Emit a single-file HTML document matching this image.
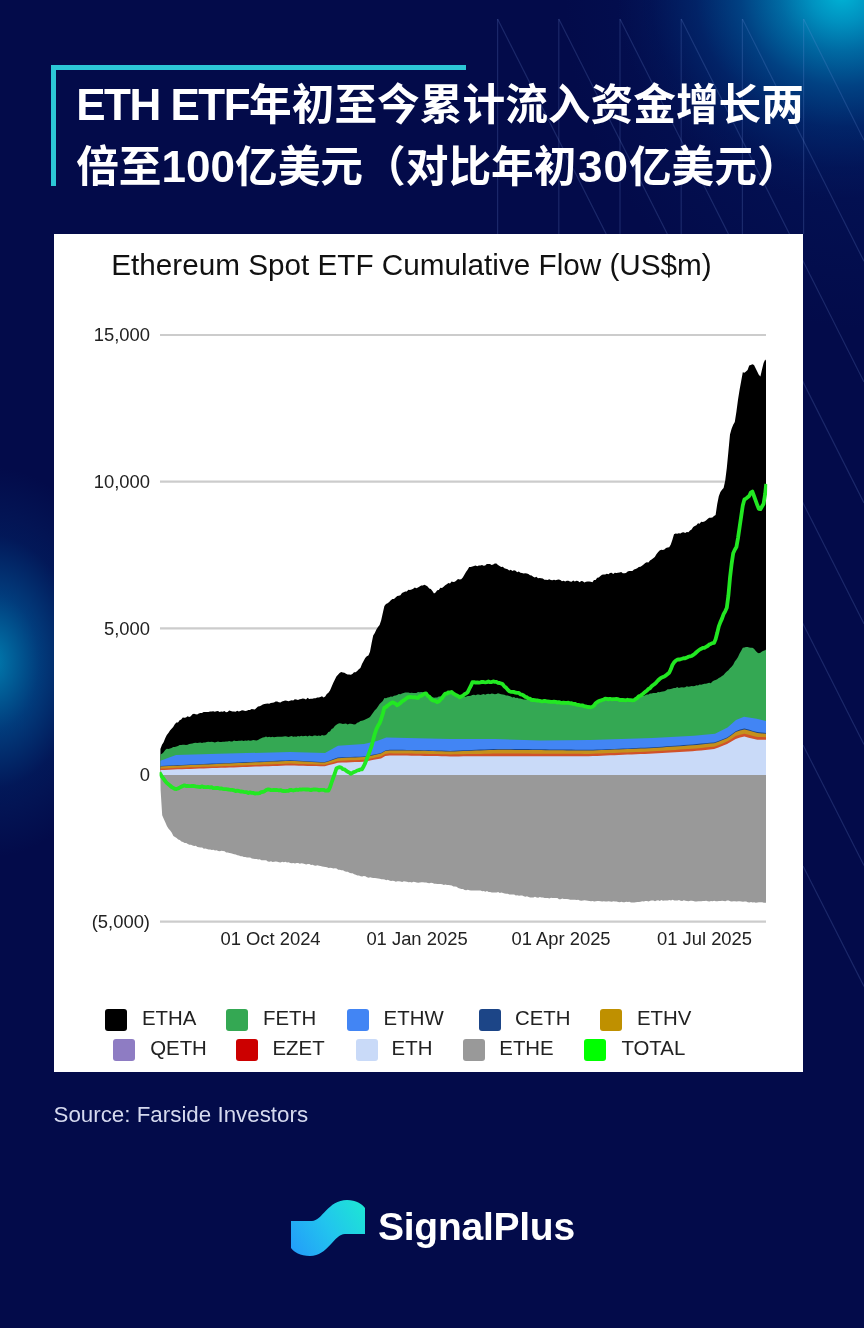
<!DOCTYPE html>
<html lang="zh">
<head>
<meta charset="utf-8">
<title>ETH ETF</title>
<style>
html,body{margin:0;padding:0;}
body{width:864px;height:1328px;overflow:hidden;position:relative;background:#030b4a;font-family:"Liberation Sans","Noto Sans CJK SC",sans-serif;}
.bg{position:absolute;left:0;top:0;width:864px;height:1328px;
background:
 radial-gradient(ellipse 225px 205px at 842px -6px, rgba(0,180,214,1) 0%, rgba(0,152,197,0.95) 14%, rgba(0,120,175,0.85) 28%, rgba(0,85,150,0.7) 45%, rgba(0,55,125,0.48) 65%, rgba(0,35,105,0.22) 85%, rgba(0,25,95,0) 100%),
 radial-gradient(ellipse 300px 330px at 864px 0px, rgba(0,60,140,0.28) 0%, rgba(0,50,130,0.14) 55%, rgba(0,40,120,0) 100%),
 radial-gradient(ellipse 135px 195px at -8px 662px, rgba(0,130,180,0.95) 0%, rgba(0,100,165,0.55) 35%, rgba(0,70,140,0.22) 65%, rgba(0,50,120,0) 100%),
 #030b4a;}
.deco{position:absolute;left:0;top:0;}
.brk-h{position:absolute;left:51px;top:65px;width:415px;height:5px;background:#2cc7d6;}
.brk-v{position:absolute;left:51px;top:65px;width:5px;height:121px;background:#2cc7d6;}
.title{position:absolute;left:76.2px;top:73.5px;width:780px;margin:0;color:#fff;font-weight:700;font-size:42.7px;line-height:61.5px;white-space:nowrap;font-family:"Liberation Sans","Noto Sans CJK SC",sans-serif;}
.title .la{font-size:44px;letter-spacing:-1.5px;}
.title .dg{font-size:44px;}
.card{position:absolute;left:54px;top:234px;width:749px;height:838px;background:#fff;}
.plot{position:absolute;left:0;top:0;}
.ctitle{position:absolute;left:57.2px;top:14px;font-size:29.7px;line-height:34px;color:#111;white-space:nowrap;}
.yl{position:absolute;right:653px;font-size:18.4px;line-height:20px;color:#222;white-space:nowrap;text-align:right;}
.xl{position:absolute;top:695px;font-size:18.4px;line-height:20px;color:#222;white-space:nowrap;transform:translateX(-50%);}
.lg{position:absolute;font-size:20.4px;line-height:22px;color:#222;white-space:nowrap;}
.sw{position:absolute;width:22px;height:22px;border-radius:3px;}
.src{position:absolute;left:53.5px;top:1102.4px;font-size:22.35px;line-height:26px;color:#d5d9ee;white-space:nowrap;}
.logo{position:absolute;left:0;top:0;}
.brand{position:absolute;left:378px;top:1205px;font-size:39px;line-height:44px;letter-spacing:-0.25px;font-weight:700;color:#fff;white-space:nowrap;}
</style>
</head>
<body>
<div class="bg"></div>
<svg class="deco" width="864" height="1328" viewBox="0 0 864 1328"><g stroke="#7f9be6" stroke-opacity="0.2" stroke-width="1.2" fill="none">
<line x1="497.6" y1="19" x2="497.6" y2="234"/>
<line x1="497.6" y1="19" x2="864.0" y2="744.6"/>
<line x1="558.8" y1="19" x2="558.8" y2="234"/>
<line x1="558.8" y1="19" x2="864.0" y2="623.8"/>
<line x1="620.0" y1="19" x2="620.0" y2="234"/>
<line x1="620.0" y1="19" x2="864.0" y2="502.9"/>
<line x1="681.2" y1="19" x2="681.2" y2="234"/>
<line x1="681.2" y1="19" x2="864.0" y2="382.0"/>
<line x1="742.4" y1="19" x2="742.4" y2="234"/>
<line x1="742.4" y1="19" x2="864.0" y2="261.2"/>
<line x1="803.6" y1="19" x2="803.6" y2="234"/>
<line x1="803.6" y1="19" x2="864.0" y2="140.3"/>
<line x1="803.0" y1="865.9" x2="864.0" y2="986.4"/>
<line x1="803.0" y1="745.0" x2="864.0" y2="865.5"/>
</g></svg>
<div class="brk-h"></div><div class="brk-v"></div>
<h1 class="title"><span class="la">ETH ETF</span>年初至今累计流入资金增长两<br>倍至<span class="dg">100</span>亿美元（对比年初<span class="dg" style="letter-spacing:1px;margin-left:1.5px">30</span>亿美元）</h1>
<div class="card">
<svg class="plot" width="749" height="838" viewBox="54 234 749 838">
<line x1="160" x2="766" y1="335.0" y2="335.0" stroke="#cccccc" stroke-width="2.2"/>
<line x1="160" x2="766" y1="481.7" y2="481.7" stroke="#cccccc" stroke-width="2.2"/>
<line x1="160" x2="766" y1="628.3" y2="628.3" stroke="#cccccc" stroke-width="2.2"/>
<line x1="160" x2="766" y1="775.0" y2="775.0" stroke="#cccccc" stroke-width="2.2"/>
<line x1="160" x2="766" y1="921.7" y2="921.7" stroke="#cccccc" stroke-width="2.2"/>
<path d="M160.4,775.0 L160.6,790.0 L162.2,815.2 L163.8,819.0 L165.4,822.4 L167.0,826.2 L168.6,828.8 L170.2,830.5 L171.8,832.8 L173.4,835.9 L175.0,837.0 L176.6,837.9 L178.2,839.6 L179.8,840.0 L181.4,841.4 L183.0,842.0 L184.6,843.1 L186.2,843.1 L187.8,844.0 L189.4,844.7 L191.0,844.8 L192.6,845.5 L194.2,845.9 L195.8,845.8 L197.4,846.9 L199.0,847.2 L200.6,847.4 L202.2,847.6 L203.8,848.7 L205.4,848.5 L207.0,849.0 L208.6,849.4 L210.2,849.5 L211.8,850.0 L213.4,849.7 L215.0,850.4 L216.6,850.3 L218.2,851.0 L219.8,851.2 L221.4,850.7 L223.0,851.0 L224.6,851.3 L226.2,852.5 L227.8,852.4 L229.4,853.1 L231.0,853.2 L232.6,853.8 L234.2,854.2 L235.8,854.6 L237.4,855.2 L239.0,855.5 L240.6,856.2 L242.2,856.3 L243.8,856.9 L245.4,857.1 L247.0,857.6 L248.6,857.6 L250.2,857.4 L251.8,858.4 L253.4,858.8 L255.0,859.1 L256.6,859.0 L258.2,859.5 L259.8,859.3 L261.4,860.2 L263.0,860.2 L264.6,860.2 L266.2,860.3 L267.8,861.4 L269.4,861.8 L271.0,861.2 L272.6,862.0 L274.2,861.7 L275.8,861.5 L277.4,861.7 L279.0,862.3 L280.6,862.5 L282.2,861.7 L283.8,862.3 L285.4,861.8 L287.0,862.6 L288.6,862.3 L290.2,862.9 L291.8,863.2 L293.4,862.9 L295.0,863.5 L296.6,863.0 L298.2,863.0 L299.8,863.7 L301.4,863.3 L303.0,863.6 L304.6,864.0 L306.2,864.4 L307.8,864.1 L309.4,864.1 L311.0,865.1 L312.6,864.8 L314.2,865.6 L315.8,865.7 L317.4,865.3 L319.0,865.7 L320.6,866.0 L322.2,866.4 L323.8,866.7 L325.4,866.9 L327.0,867.2 L328.6,867.9 L330.2,867.7 L331.8,867.9 L333.4,868.5 L335.0,868.3 L336.6,868.6 L338.2,869.7 L339.8,869.8 L341.4,870.3 L343.0,870.3 L344.6,871.2 L346.2,871.8 L347.8,871.7 L349.4,872.8 L351.0,873.3 L352.6,873.3 L354.2,874.3 L355.8,874.7 L357.4,875.4 L359.0,875.5 L360.6,876.2 L362.2,876.5 L363.8,876.0 L365.4,876.3 L367.0,877.2 L368.6,877.7 L370.2,877.2 L371.8,877.7 L373.4,878.1 L375.0,878.0 L376.6,878.3 L378.2,878.5 L379.8,878.8 L381.4,879.3 L383.0,879.3 L384.6,879.6 L386.2,880.2 L387.8,879.7 L389.4,880.5 L391.0,880.9 L392.6,880.8 L394.2,880.9 L395.8,881.7 L397.4,881.2 L399.0,881.2 L400.6,881.5 L402.2,881.9 L403.8,881.3 L405.4,881.6 L407.0,881.7 L408.6,882.3 L410.2,882.0 L411.8,882.4 L413.4,881.8 L415.0,882.1 L416.6,882.4 L418.2,882.7 L419.8,882.4 L421.4,882.2 L423.0,882.2 L424.6,882.6 L426.2,882.4 L427.8,883.1 L429.4,883.2 L431.0,882.7 L432.6,883.0 L434.2,883.7 L435.8,883.8 L437.4,884.1 L439.0,883.9 L440.6,883.9 L442.2,884.2 L443.8,884.9 L445.4,884.6 L447.0,884.9 L448.6,885.1 L450.2,885.3 L451.8,885.6 L453.4,886.6 L455.0,886.4 L456.6,886.7 L458.2,888.1 L459.8,888.5 L461.4,889.1 L463.0,889.0 L464.6,890.0 L466.2,890.2 L467.8,889.7 L469.4,890.3 L471.0,890.5 L472.6,890.5 L474.2,890.5 L475.8,890.4 L477.4,890.6 L479.0,890.6 L480.6,890.6 L482.2,891.2 L483.8,891.1 L485.4,891.7 L487.0,891.1 L488.6,892.1 L490.2,892.0 L491.8,892.4 L493.4,892.5 L495.0,892.6 L496.6,892.5 L498.2,892.0 L499.8,893.0 L501.4,892.6 L503.0,893.0 L504.6,893.6 L506.2,893.7 L507.8,893.8 L509.4,894.5 L511.0,894.4 L512.6,894.4 L514.2,894.5 L515.8,895.4 L517.4,895.2 L519.0,895.7 L520.6,895.5 L522.2,895.6 L523.8,896.2 L525.4,896.7 L527.0,896.2 L528.6,897.1 L530.2,897.4 L531.8,897.4 L533.4,897.5 L535.0,896.8 L536.6,897.5 L538.2,897.8 L539.8,897.1 L541.4,897.4 L543.0,897.5 L544.6,897.9 L546.2,897.9 L547.8,898.0 L549.4,898.4 L551.0,897.7 L552.6,897.9 L554.2,898.0 L555.8,898.1 L557.4,898.1 L559.0,899.2 L560.6,899.2 L562.2,898.5 L563.8,899.1 L565.4,899.0 L567.0,899.1 L568.6,899.3 L570.2,899.7 L571.8,899.8 L573.4,899.7 L575.0,899.7 L576.6,899.9 L578.2,899.8 L579.8,900.4 L581.4,900.7 L583.0,900.5 L584.6,900.3 L586.2,900.5 L587.8,900.7 L589.4,901.0 L591.0,901.2 L592.6,900.9 L594.2,901.4 L595.8,901.2 L597.4,901.1 L599.0,901.1 L600.6,901.2 L602.2,901.5 L603.8,901.3 L605.4,901.6 L607.0,901.4 L608.6,901.2 L610.2,901.6 L611.8,901.8 L613.4,901.2 L615.0,901.6 L616.6,901.6 L618.2,902.1 L619.8,902.3 L621.4,901.7 L623.0,902.3 L624.6,902.2 L626.2,901.8 L627.8,902.0 L629.4,901.7 L631.0,902.5 L632.6,902.4 L634.2,902.5 L635.8,902.3 L637.4,902.1 L639.0,902.1 L640.6,901.8 L642.2,901.2 L643.8,901.6 L645.4,900.9 L647.0,901.0 L648.6,901.5 L650.2,900.7 L651.8,900.6 L653.4,900.5 L655.0,901.2 L656.6,900.4 L658.2,900.2 L659.8,900.9 L661.4,900.1 L663.0,900.7 L664.6,900.4 L666.2,900.5 L667.8,900.5 L669.4,900.1 L671.0,900.4 L672.6,899.7 L674.2,900.5 L675.8,900.4 L677.4,900.6 L679.0,900.1 L680.6,900.8 L682.2,901.1 L683.8,900.3 L685.4,900.7 L687.0,901.0 L688.6,901.3 L690.2,900.8 L691.8,900.8 L693.4,901.0 L695.0,901.4 L696.6,901.6 L698.2,901.3 L699.8,901.2 L701.4,901.2 L703.0,901.1 L704.6,901.1 L706.2,900.8 L707.8,901.2 L709.4,901.6 L711.0,901.0 L712.6,901.3 L714.2,900.7 L715.8,901.2 L717.4,901.2 L719.0,901.1 L720.6,900.9 L722.2,900.8 L723.8,901.0 L725.4,901.2 L727.0,900.6 L728.6,900.6 L730.2,901.3 L731.8,901.6 L733.4,901.3 L735.0,901.3 L736.6,901.6 L738.2,901.2 L739.8,901.3 L741.4,901.4 L743.0,901.8 L744.6,901.6 L746.2,901.6 L747.8,902.2 L749.4,902.5 L751.0,901.9 L752.6,902.4 L754.2,902.2 L755.8,902.7 L757.4,902.5 L759.0,902.3 L760.6,902.3 L762.2,902.2 L763.8,902.7 L765.4,902.7 L766.0,902.8 L766.0,775.0 Z" fill="#999999"/>
<path d="M160.4,775.0 L160.4,749.0 L162.0,744.7 L163.6,742.2 L165.2,738.3 L166.8,734.9 L168.4,733.0 L170.0,730.6 L171.6,728.7 L173.2,726.9 L174.8,724.3 L176.4,722.6 L178.0,722.4 L179.6,720.2 L181.2,719.4 L182.8,717.6 L184.4,717.7 L186.0,717.6 L187.6,716.3 L189.2,716.9 L190.8,716.2 L192.4,714.3 L194.0,713.8 L195.6,714.3 L197.2,714.6 L198.8,713.4 L200.4,712.9 L202.0,712.9 L203.6,711.9 L205.2,711.9 L206.8,711.9 L208.4,711.9 L210.0,711.5 L211.6,711.4 L213.2,711.3 L214.8,711.7 L216.4,711.3 L218.0,710.9 L219.6,712.1 L221.2,711.6 L222.8,711.7 L224.4,710.9 L226.0,712.2 L227.6,711.9 L229.2,710.6 L230.8,710.9 L232.4,711.5 L234.0,711.4 L235.6,711.7 L237.2,710.8 L238.8,711.4 L240.4,711.0 L242.0,710.2 L243.6,710.5 L245.2,710.9 L246.8,710.7 L248.4,710.0 L250.0,710.0 L251.6,709.0 L253.2,709.2 L254.8,709.5 L256.4,707.9 L258.0,706.6 L259.6,706.3 L261.2,705.6 L262.8,704.6 L264.4,703.9 L266.0,703.7 L267.6,703.6 L269.2,703.8 L270.8,703.1 L272.4,702.7 L274.0,702.6 L275.6,701.6 L277.2,701.4 L278.8,702.2 L280.4,702.4 L282.0,701.6 L283.6,701.0 L285.2,700.5 L286.8,700.8 L288.4,701.3 L290.0,700.8 L291.6,700.2 L293.2,700.5 L294.8,699.3 L296.4,699.5 L298.0,700.0 L299.6,699.2 L301.2,698.9 L302.8,698.5 L304.4,698.8 L306.0,699.4 L307.6,697.8 L309.2,698.9 L310.8,698.8 L312.4,698.7 L314.0,698.3 L315.6,698.2 L317.2,697.6 L318.8,697.5 L320.4,697.1 L322.0,696.3 L323.6,697.4 L325.2,696.6 L326.8,694.1 L328.4,692.7 L330.0,690.5 L331.6,686.7 L333.2,683.1 L334.8,679.8 L336.4,676.4 L338.0,674.8 L339.6,672.9 L341.2,672.0 L342.8,672.6 L344.4,672.8 L346.0,673.7 L347.6,674.4 L349.2,674.6 L350.8,674.8 L352.4,674.1 L354.0,672.3 L355.6,672.3 L357.2,671.0 L358.8,669.2 L360.4,668.1 L362.0,664.0 L363.6,661.0 L365.2,658.0 L366.8,656.2 L368.4,655.4 L370.0,651.8 L371.6,643.3 L373.2,635.5 L374.8,632.9 L376.4,629.6 L378.0,626.9 L379.6,624.9 L381.2,620.3 L382.8,612.9 L384.4,606.0 L386.0,603.9 L387.6,603.2 L389.2,602.0 L390.8,600.3 L392.4,598.9 L394.0,599.0 L395.6,597.5 L397.2,596.1 L398.8,595.8 L400.4,595.2 L402.0,593.1 L403.6,592.2 L405.2,591.5 L406.8,591.5 L408.4,589.7 L410.0,590.0 L411.6,589.4 L413.2,588.7 L414.8,587.6 L416.4,588.3 L418.0,587.5 L419.6,586.5 L421.2,585.5 L422.8,585.6 L424.4,584.7 L426.0,585.5 L427.6,586.5 L429.2,588.5 L430.8,589.0 L432.4,590.9 L434.0,593.4 L435.6,592.6 L437.2,590.3 L438.8,589.9 L440.4,587.8 L442.0,587.9 L443.6,586.7 L445.2,585.3 L446.8,584.2 L448.4,582.9 L450.0,583.4 L451.6,581.4 L453.2,582.1 L454.8,581.7 L456.4,580.4 L458.0,579.1 L459.6,579.6 L461.2,579.2 L462.8,577.4 L464.4,574.7 L466.0,572.1 L467.6,569.7 L469.2,567.0 L470.8,567.0 L472.4,566.4 L474.0,565.9 L475.6,565.5 L477.2,566.2 L478.8,565.4 L480.4,565.6 L482.0,565.1 L483.6,565.8 L485.2,565.6 L486.8,564.0 L488.4,564.1 L490.0,564.1 L491.6,565.0 L493.2,564.4 L494.8,563.5 L496.4,563.6 L498.0,565.1 L499.6,566.1 L501.2,567.0 L502.8,566.7 L504.4,568.3 L506.0,568.8 L507.6,569.2 L509.2,570.5 L510.8,569.7 L512.4,570.9 L514.0,570.2 L515.6,570.7 L517.2,572.3 L518.8,571.5 L520.4,572.8 L522.0,572.9 L523.6,573.6 L525.2,573.2 L526.8,573.6 L528.4,573.9 L530.0,575.3 L531.6,575.6 L533.2,576.8 L534.8,577.4 L536.4,576.8 L538.0,578.2 L539.6,578.1 L541.2,578.3 L542.8,578.4 L544.4,579.8 L546.0,579.8 L547.6,580.0 L549.2,579.3 L550.8,579.9 L552.4,580.3 L554.0,579.7 L555.6,580.2 L557.2,579.7 L558.8,579.6 L560.4,580.0 L562.0,581.2 L563.6,580.8 L565.2,581.5 L566.8,580.8 L568.4,580.7 L570.0,581.6 L571.6,581.7 L573.2,580.5 L574.8,581.6 L576.4,580.8 L578.0,580.9 L579.6,582.2 L581.2,580.9 L582.8,581.3 L584.4,582.6 L586.0,581.8 L587.6,581.4 L589.2,581.5 L590.8,581.7 L592.4,582.2 L594.0,579.9 L595.6,579.9 L597.2,577.8 L598.8,577.4 L600.4,576.1 L602.0,574.8 L603.6,574.5 L605.2,574.6 L606.8,573.7 L608.4,574.3 L610.0,573.1 L611.6,572.8 L613.2,574.1 L614.8,572.7 L616.4,573.1 L618.0,572.8 L619.6,572.4 L621.2,572.0 L622.8,573.2 L624.4,573.2 L626.0,573.1 L627.6,571.6 L629.2,571.1 L630.8,571.1 L632.4,570.9 L634.0,569.5 L635.6,569.1 L637.2,568.3 L638.8,567.0 L640.4,566.8 L642.0,565.7 L643.6,564.5 L645.2,563.1 L646.8,562.3 L648.4,562.4 L650.0,560.4 L651.6,559.6 L653.2,558.2 L654.8,556.9 L656.4,554.2 L658.0,552.3 L659.6,550.6 L661.2,549.7 L662.8,550.0 L664.4,549.5 L666.0,548.0 L667.6,547.5 L669.2,547.3 L670.8,544.4 L672.4,539.7 L674.0,534.3 L675.6,533.6 L677.2,533.7 L678.8,533.2 L680.4,533.6 L682.0,532.6 L683.6,532.3 L685.2,532.9 L686.8,532.1 L688.4,532.3 L690.0,530.4 L691.6,529.6 L693.2,527.0 L694.8,526.1 L696.4,525.2 L698.0,523.2 L699.6,523.8 L701.2,521.8 L702.8,521.9 L704.4,521.5 L706.0,520.4 L707.6,518.9 L709.2,517.8 L710.8,517.7 L712.4,517.6 L714.0,515.9 L715.6,515.0 L717.2,504.3 L718.8,496.3 L720.4,492.1 L722.0,489.8 L723.6,488.0 L725.2,480.7 L726.8,468.1 L728.4,451.6 L730.0,434.6 L731.6,428.7 L733.2,424.7 L734.8,421.9 L736.4,411.7 L738.0,399.8 L739.6,389.8 L741.2,380.9 L742.8,372.3 L744.4,372.7 L746.0,371.4 L747.6,369.9 L749.2,365.5 L750.8,365.1 L752.4,364.2 L754.0,364.9 L755.6,368.3 L757.2,371.6 L758.8,374.7 L760.4,376.6 L762.0,369.4 L763.6,363.0 L765.2,359.6 L766.0,360.7 L766.0,775.0 Z" fill="#000000"/>
<path d="M160.4,775.0 L160.4,754.6 L162.0,753.7 L163.6,752.3 L165.2,750.1 L166.8,748.8 L168.4,748.9 L170.0,748.4 L171.6,747.9 L173.2,747.0 L174.8,746.9 L176.4,746.4 L178.0,745.9 L179.6,745.1 L181.2,744.9 L182.8,744.7 L184.4,744.8 L186.0,744.9 L187.6,744.7 L189.2,744.1 L190.8,743.8 L192.4,743.4 L194.0,743.0 L195.6,742.8 L197.2,743.0 L198.8,742.7 L200.4,742.6 L202.0,742.9 L203.6,742.4 L205.2,742.4 L206.8,742.0 L208.4,741.7 L210.0,741.9 L211.6,741.7 L213.2,742.0 L214.8,742.4 L216.4,742.0 L218.0,741.4 L219.6,742.0 L221.2,741.9 L222.8,741.7 L224.4,741.8 L226.0,741.6 L227.6,741.5 L229.2,741.0 L230.8,741.6 L232.4,741.5 L234.0,740.6 L235.6,741.1 L237.2,741.0 L238.8,740.7 L240.4,740.7 L242.0,740.6 L243.6,741.0 L245.2,740.5 L246.8,740.7 L248.4,740.2 L250.0,740.7 L251.6,740.6 L253.2,740.1 L254.8,740.2 L256.4,740.5 L258.0,740.1 L259.6,739.1 L261.2,738.2 L262.8,737.6 L264.4,737.3 L266.0,736.6 L267.6,737.3 L269.2,736.7 L270.8,737.3 L272.4,736.7 L274.0,737.3 L275.6,737.0 L277.2,736.8 L278.8,736.7 L280.4,736.8 L282.0,736.7 L283.6,736.4 L285.2,736.3 L286.8,736.6 L288.4,737.0 L290.0,736.6 L291.6,736.0 L293.2,736.7 L294.8,736.6 L296.4,736.7 L298.0,736.0 L299.6,736.5 L301.2,735.7 L302.8,736.3 L304.4,735.9 L306.0,735.8 L307.6,736.4 L309.2,735.6 L310.8,735.9 L312.4,736.2 L314.0,735.6 L315.6,735.5 L317.2,736.1 L318.8,735.6 L320.4,735.9 L322.0,735.1 L323.6,735.4 L325.2,735.2 L326.8,734.2 L328.4,732.1 L330.0,731.5 L331.6,729.0 L333.2,728.2 L334.8,726.0 L336.4,724.8 L338.0,723.8 L339.6,723.2 L341.2,723.4 L342.8,723.9 L344.4,723.7 L346.0,723.5 L347.6,724.5 L349.2,723.8 L350.8,723.7 L352.4,724.1 L354.0,724.5 L355.6,724.2 L357.2,722.8 L358.8,722.2 L360.4,721.1 L362.0,720.7 L363.6,720.3 L365.2,719.4 L366.8,718.8 L368.4,717.9 L370.0,716.9 L371.6,714.7 L373.2,712.5 L374.8,710.3 L376.4,708.7 L378.0,706.4 L379.6,704.1 L381.2,702.5 L382.8,700.9 L384.4,698.1 L386.0,698.2 L387.6,697.5 L389.2,697.2 L390.8,696.4 L392.4,696.8 L394.0,695.7 L395.6,695.6 L397.2,695.0 L398.8,694.1 L400.4,694.2 L402.0,693.4 L403.6,692.9 L405.2,692.5 L406.8,692.6 L408.4,692.4 L410.0,692.9 L411.6,692.7 L413.2,693.1 L414.8,692.9 L416.4,692.9 L418.0,692.1 L419.6,692.2 L421.2,691.9 L422.8,692.2 L424.4,692.2 L426.0,693.0 L427.6,694.0 L429.2,694.7 L430.8,695.9 L432.4,697.1 L434.0,697.7 L435.6,697.6 L437.2,697.4 L438.8,696.6 L440.4,696.6 L442.0,695.6 L443.6,694.9 L445.2,694.4 L446.8,693.9 L448.4,693.3 L450.0,693.0 L451.6,693.6 L453.2,694.0 L454.8,694.9 L456.4,695.1 L458.0,696.3 L459.6,697.0 L461.2,697.3 L462.8,697.2 L464.4,697.0 L466.0,696.7 L467.6,695.9 L469.2,696.0 L470.8,695.8 L472.4,695.1 L474.0,694.8 L475.6,695.2 L477.2,694.5 L478.8,694.5 L480.4,694.9 L482.0,694.5 L483.6,694.1 L485.2,694.7 L486.8,694.1 L488.4,693.7 L490.0,694.3 L491.6,693.6 L493.2,693.7 L494.8,694.2 L496.4,694.0 L498.0,693.3 L499.6,693.8 L501.2,694.2 L502.8,694.6 L504.4,694.7 L506.0,695.5 L507.6,695.4 L509.2,696.0 L510.8,696.5 L512.4,697.4 L514.0,697.0 L515.6,698.0 L517.2,697.7 L518.8,698.4 L520.4,698.5 L522.0,698.9 L523.6,699.5 L525.2,699.5 L526.8,699.5 L528.4,699.8 L530.0,700.1 L531.6,701.2 L533.2,701.2 L534.8,701.5 L536.4,701.3 L538.0,700.7 L539.6,701.4 L541.2,701.6 L542.8,701.6 L544.4,701.5 L546.0,701.4 L547.6,701.6 L549.2,702.0 L550.8,701.5 L552.4,701.9 L554.0,701.9 L555.6,702.5 L557.2,702.5 L558.8,702.7 L560.4,702.7 L562.0,702.2 L563.6,702.3 L565.2,702.6 L566.8,702.5 L568.4,702.8 L570.0,703.1 L571.6,703.6 L573.2,703.6 L574.8,704.3 L576.4,703.9 L578.0,704.5 L579.6,705.6 L581.2,705.1 L582.8,705.7 L584.4,705.8 L586.0,706.1 L587.6,707.3 L589.2,707.8 L590.8,707.8 L592.4,706.7 L594.0,705.1 L595.6,703.2 L597.2,701.9 L598.8,701.3 L600.4,700.6 L602.0,700.1 L603.6,699.2 L605.2,699.1 L606.8,699.4 L608.4,699.3 L610.0,698.7 L611.6,699.2 L613.2,699.5 L614.8,699.1 L616.4,699.8 L618.0,699.5 L619.6,699.8 L621.2,699.6 L622.8,700.3 L624.4,700.1 L626.0,700.0 L627.6,699.7 L629.2,700.0 L630.8,699.7 L632.4,700.3 L634.0,700.3 L635.6,698.8 L637.2,698.3 L638.8,697.5 L640.4,696.6 L642.0,696.1 L643.6,695.9 L645.2,695.2 L646.8,694.6 L648.4,694.6 L650.0,693.5 L651.6,693.5 L653.2,693.1 L654.8,693.0 L656.4,692.9 L658.0,692.1 L659.6,692.3 L661.2,691.8 L662.8,691.6 L664.4,691.3 L666.0,690.5 L667.6,689.3 L669.2,689.2 L670.8,688.9 L672.4,688.6 L674.0,688.1 L675.6,688.1 L677.2,687.1 L678.8,687.9 L680.4,687.5 L682.0,687.2 L683.6,687.4 L685.2,687.2 L686.8,686.3 L688.4,686.8 L690.0,686.6 L691.6,685.9 L693.2,686.3 L694.8,685.9 L696.4,685.2 L698.0,685.5 L699.6,684.6 L701.2,684.7 L702.8,684.2 L704.4,683.7 L706.0,683.7 L707.6,683.3 L709.2,682.8 L710.8,683.2 L712.4,681.4 L714.0,680.4 L715.6,679.9 L717.2,679.3 L718.8,678.1 L720.4,677.2 L722.0,676.0 L723.6,675.0 L725.2,673.1 L726.8,671.5 L728.4,670.2 L730.0,668.2 L731.6,666.7 L733.2,664.8 L734.8,661.6 L736.4,659.6 L738.0,657.0 L739.6,653.5 L741.2,650.7 L742.8,647.7 L744.4,647.5 L746.0,647.0 L747.6,647.1 L749.2,647.5 L750.8,647.8 L752.4,647.8 L754.0,648.8 L755.6,650.7 L757.2,652.4 L758.8,653.2 L760.4,652.7 L762.0,651.6 L763.6,650.7 L765.2,650.2 L766.0,649.4 L766.0,775.0 Z" fill="#34a853"/>
<path d="M160.4,775.0 L160.4,760.7 L176.0,755.0 L219.0,753.8 L290.0,752.0 L325.0,753.0 L338.0,745.7 L364.0,743.9 L377.0,741.0 L386.3,737.4 L450.0,739.0 L495.0,739.0 L540.0,740.5 L590.0,740.0 L652.5,738.0 L694.0,735.8 L715.0,733.8 L727.5,727.5 L736.0,720.0 L744.0,716.7 L756.7,718.8 L766.0,721.0 L766.0,775.0 Z" fill="#4285f4"/>
<path d="M160.4,775.0 L160.4,765.9 L164.7,765.7 L169.1,765.5 L173.4,765.3 L177.7,765.1 L182.0,765.0 L186.4,764.8 L190.7,764.6 L195.0,764.4 L199.3,764.2 L203.7,764.0 L208.0,763.8 L212.3,763.6 L216.6,763.5 L221.0,763.3 L225.3,763.1 L229.6,762.9 L233.9,762.7 L238.3,762.5 L242.6,762.3 L246.9,762.1 L251.2,761.9 L255.6,761.8 L259.9,761.6 L264.2,761.4 L268.5,761.2 L272.9,761.0 L277.2,760.8 L281.5,760.6 L285.8,760.4 L290.2,760.3 L294.5,760.5 L298.8,760.7 L303.1,761.0 L307.5,761.2 L311.8,761.4 L316.1,761.7 L320.5,761.9 L324.8,762.1 L329.1,760.7 L333.4,759.1 L337.8,757.6 L342.1,757.3 L346.4,757.2 L350.7,757.0 L355.1,756.8 L359.4,756.7 L363.7,756.5 L368.0,755.7 L372.4,754.8 L376.7,753.9 L381.0,753.0 L385.3,750.4 L389.7,749.7 L394.0,749.7 L398.3,749.8 L402.6,749.8 L407.0,749.9 L411.3,749.9 L415.6,750.0 L419.9,750.0 L424.3,750.2 L428.6,750.3 L432.9,750.4 L437.2,750.5 L441.6,750.6 L445.9,750.8 L450.2,750.9 L454.5,750.7 L458.9,750.5 L463.2,750.3 L467.5,750.2 L471.9,750.0 L476.2,749.8 L480.5,749.6 L484.8,749.5 L489.2,749.3 L493.5,749.1 L497.8,748.9 L502.1,748.9 L506.5,748.9 L510.8,749.0 L515.1,749.0 L519.4,749.1 L523.8,749.1 L528.1,749.1 L532.4,749.2 L536.7,749.2 L541.1,749.3 L545.4,749.3 L549.7,749.4 L554.0,749.4 L558.4,749.5 L562.7,749.5 L567.0,749.6 L571.3,749.6 L575.7,749.7 L580.0,749.7 L584.3,749.8 L588.6,749.8 L593.0,749.7 L597.3,749.6 L601.6,749.4 L605.9,749.2 L610.3,749.0 L614.6,748.9 L618.9,748.7 L623.3,748.5 L627.6,748.4 L631.9,748.2 L636.2,748.0 L640.6,747.8 L644.9,747.7 L649.2,747.5 L653.5,747.3 L657.9,747.0 L662.2,746.7 L666.5,746.3 L670.8,746.0 L675.2,745.7 L679.5,745.4 L683.8,745.1 L688.1,744.8 L692.5,744.4 L696.8,744.1 L701.1,743.6 L705.4,743.2 L709.8,742.8 L714.1,742.4 L718.4,740.9 L722.7,739.2 L727.1,737.5 L731.4,734.4 L735.7,731.2 L740.0,729.6 L744.4,728.4 L748.7,729.6 L753.0,730.9 L757.3,732.0 L761.7,732.5 L766.0,733.0 L766.0,775.0 Z" fill="#1c4587"/>
<path d="M160.4,775.0 L160.4,766.4 L164.7,766.2 L169.1,766.0 L173.4,765.8 L177.7,765.7 L182.0,765.5 L186.4,765.3 L190.7,765.1 L195.0,764.9 L199.3,764.7 L203.7,764.5 L208.0,764.4 L212.3,764.2 L216.6,764.0 L221.0,763.8 L225.3,763.6 L229.6,763.4 L233.9,763.3 L238.3,763.1 L242.6,762.9 L246.9,762.7 L251.2,762.5 L255.6,762.3 L259.9,762.2 L264.2,762.0 L268.5,761.8 L272.9,761.6 L277.2,761.4 L281.5,761.2 L285.8,761.1 L290.2,760.9 L294.5,761.1 L298.8,761.3 L303.1,761.5 L307.5,761.8 L311.8,762.0 L316.1,762.2 L320.5,762.4 L324.8,762.6 L329.1,761.2 L333.4,759.7 L337.8,758.2 L342.1,758.0 L346.4,757.8 L350.7,757.6 L355.1,757.5 L359.4,757.3 L363.7,757.1 L368.0,756.3 L372.4,755.4 L376.7,754.5 L381.0,753.6 L385.3,751.1 L389.7,750.4 L394.0,750.4 L398.3,750.5 L402.6,750.5 L407.0,750.6 L411.3,750.6 L415.6,750.7 L419.9,750.7 L424.3,750.8 L428.6,751.0 L432.9,751.1 L437.2,751.2 L441.6,751.3 L445.9,751.4 L450.2,751.5 L454.5,751.4 L458.9,751.2 L463.2,751.1 L467.5,750.9 L471.9,750.7 L476.2,750.6 L480.5,750.4 L484.8,750.3 L489.2,750.1 L493.5,750.0 L497.8,749.8 L502.1,749.7 L506.5,749.8 L510.8,749.8 L515.1,749.9 L519.4,749.9 L523.8,749.9 L528.1,750.0 L532.4,750.0 L536.7,750.1 L541.1,750.1 L545.4,750.2 L549.7,750.2 L554.0,750.2 L558.4,750.3 L562.7,750.3 L567.0,750.4 L571.3,750.4 L575.7,750.5 L580.0,750.5 L584.3,750.5 L588.6,750.6 L593.0,750.5 L597.3,750.3 L601.6,750.1 L605.9,750.0 L610.3,749.8 L614.6,749.6 L618.9,749.5 L623.3,749.3 L627.6,749.1 L631.9,748.9 L636.2,748.8 L640.6,748.6 L644.9,748.4 L649.2,748.3 L653.5,748.0 L657.9,747.7 L662.2,747.4 L666.5,747.1 L670.8,746.8 L675.2,746.5 L679.5,746.2 L683.8,745.9 L688.1,745.6 L692.5,745.2 L696.8,744.9 L701.1,744.4 L705.4,744.0 L709.8,743.6 L714.1,743.2 L718.4,741.7 L722.7,740.0 L727.1,738.2 L731.4,735.2 L735.7,732.1 L740.0,730.6 L744.4,729.4 L748.7,730.6 L753.0,731.8 L757.3,733.0 L761.7,733.4 L766.0,733.8 L766.0,775.0 Z" fill="#c5901c"/>
<path d="M160.4,775.0 L160.4,768.6 L164.7,768.4 L169.1,768.2 L173.4,768.0 L177.7,767.8 L182.0,767.7 L186.4,767.5 L190.7,767.3 L195.0,767.2 L199.3,767.0 L203.7,766.8 L208.0,766.7 L212.3,766.5 L216.6,766.4 L221.0,766.2 L225.3,766.0 L229.6,765.9 L233.9,765.7 L238.3,765.5 L242.6,765.4 L246.9,765.2 L251.2,765.0 L255.6,764.9 L259.9,764.7 L264.2,764.6 L268.5,764.4 L272.9,764.2 L277.2,764.1 L281.5,763.9 L285.8,763.7 L290.2,763.6 L294.5,763.7 L298.8,763.9 L303.1,764.0 L307.5,764.2 L311.8,764.3 L316.1,764.5 L320.5,764.6 L324.8,764.8 L329.1,763.5 L333.4,762.2 L337.8,760.9 L342.1,760.7 L346.4,760.5 L350.7,760.3 L355.1,760.2 L359.4,760.0 L363.7,759.8 L368.0,759.0 L372.4,758.2 L376.7,757.3 L381.0,756.5 L385.3,754.0 L389.7,753.3 L394.0,753.4 L398.3,753.4 L402.6,753.5 L407.0,753.6 L411.3,753.6 L415.6,753.7 L419.9,753.7 L424.3,753.8 L428.6,753.9 L432.9,754.0 L437.2,754.1 L441.6,754.2 L445.9,754.3 L450.2,754.4 L454.5,754.3 L458.9,754.3 L463.2,754.2 L467.5,754.1 L471.9,754.0 L476.2,754.0 L480.5,753.9 L484.8,753.8 L489.2,753.7 L493.5,753.6 L497.8,753.6 L502.1,753.5 L506.5,753.6 L510.8,753.6 L515.1,753.6 L519.4,753.6 L523.8,753.6 L528.1,753.6 L532.4,753.7 L536.7,753.7 L541.1,753.7 L545.4,753.7 L549.7,753.7 L554.0,753.7 L558.4,753.8 L562.7,753.8 L567.0,753.8 L571.3,753.8 L575.7,753.8 L580.0,753.8 L584.3,753.9 L588.6,753.9 L593.0,753.8 L597.3,753.6 L601.6,753.4 L605.9,753.2 L610.3,753.1 L614.6,752.9 L618.9,752.7 L623.3,752.6 L627.6,752.4 L631.9,752.2 L636.2,752.0 L640.6,751.9 L644.9,751.7 L649.2,751.5 L653.5,751.3 L657.9,751.0 L662.2,750.7 L666.5,750.5 L670.8,750.2 L675.2,749.9 L679.5,749.6 L683.8,749.3 L688.1,749.0 L692.5,748.7 L696.8,748.4 L701.1,747.9 L705.4,747.5 L709.8,747.1 L714.1,746.7 L718.4,745.2 L722.7,743.4 L727.1,741.6 L731.4,738.9 L735.7,736.1 L740.0,734.7 L744.4,733.7 L748.7,734.8 L753.0,736.0 L757.3,737.0 L761.7,737.1 L766.0,737.3 L766.0,775.0 Z" fill="#d1522a"/>
<path d="M160.4,775.0 L160.4,770.1 L164.7,769.9 L169.1,769.7 L173.4,769.5 L177.7,769.3 L182.0,769.2 L186.4,769.0 L190.7,768.9 L195.0,768.7 L199.3,768.6 L203.7,768.4 L208.0,768.3 L212.3,768.1 L216.6,768.0 L221.0,767.8 L225.3,767.7 L229.6,767.5 L233.9,767.4 L238.3,767.2 L242.6,767.1 L246.9,766.9 L251.2,766.8 L255.6,766.6 L259.9,766.5 L264.2,766.3 L268.5,766.2 L272.9,766.0 L277.2,765.9 L281.5,765.7 L285.8,765.6 L290.2,765.4 L294.5,765.5 L298.8,765.7 L303.1,765.8 L307.5,765.9 L311.8,766.0 L316.1,766.1 L320.5,766.2 L324.8,766.3 L329.1,765.1 L333.4,764.0 L337.8,762.8 L342.1,762.5 L346.4,762.4 L350.7,762.2 L355.1,762.1 L359.4,761.9 L363.7,761.7 L368.0,760.9 L372.4,760.1 L376.7,759.3 L381.0,758.4 L385.3,756.1 L389.7,755.4 L394.0,755.4 L398.3,755.5 L402.6,755.6 L407.0,755.6 L411.3,755.7 L415.6,755.7 L419.9,755.8 L424.3,755.9 L428.6,756.0 L432.9,756.1 L437.2,756.1 L441.6,756.2 L445.9,756.3 L450.2,756.4 L454.5,756.4 L458.9,756.4 L463.2,756.3 L467.5,756.3 L471.9,756.3 L476.2,756.3 L480.5,756.3 L484.8,756.2 L489.2,756.2 L493.5,756.2 L497.8,756.2 L502.1,756.2 L506.5,756.2 L510.8,756.2 L515.1,756.2 L519.4,756.2 L523.8,756.2 L528.1,756.2 L532.4,756.2 L536.7,756.2 L541.1,756.2 L545.4,756.2 L549.7,756.2 L554.0,756.2 L558.4,756.2 L562.7,756.2 L567.0,756.2 L571.3,756.2 L575.7,756.2 L580.0,756.2 L584.3,756.2 L588.6,756.2 L593.0,756.0 L597.3,755.9 L601.6,755.7 L605.9,755.5 L610.3,755.3 L614.6,755.2 L618.9,755.0 L623.3,754.8 L627.6,754.6 L631.9,754.5 L636.2,754.3 L640.6,754.1 L644.9,753.9 L649.2,753.8 L653.5,753.6 L657.9,753.3 L662.2,753.0 L666.5,752.8 L670.8,752.5 L675.2,752.2 L679.5,752.0 L683.8,751.7 L688.1,751.4 L692.5,751.2 L696.8,750.8 L701.1,750.4 L705.4,749.9 L709.8,749.5 L714.1,749.1 L718.4,747.6 L722.7,745.7 L727.1,743.9 L731.4,741.4 L735.7,738.9 L740.0,737.6 L744.4,736.6 L748.7,737.7 L753.0,738.8 L757.3,739.7 L761.7,739.7 L766.0,739.8 L766.0,775.0 Z" fill="#c9daf8"/>
<clipPath id="pc"><rect x="159.6" y="300" width="607.6" height="640"/></clipPath>
<polyline clip-path="url(#pc)" points="160.4,774.0 162.0,776.8 163.6,778.7 165.2,781.1 166.8,782.9 168.4,784.2 170.0,785.5 171.6,787.0 173.2,787.9 174.8,788.9 176.4,789.0 178.0,788.5 179.6,787.6 181.2,786.8 182.8,786.0 184.4,785.4 186.0,786.0 187.6,786.0 189.2,786.1 190.8,786.2 192.4,785.8 194.0,786.0 195.6,786.4 197.2,786.6 198.8,786.9 200.4,787.0 202.0,786.4 203.6,787.0 205.2,787.2 206.8,787.2 208.4,787.0 210.0,787.4 211.6,787.2 213.2,788.1 214.8,788.2 216.4,788.0 218.0,787.9 219.6,788.6 221.2,788.4 222.8,788.8 224.4,789.1 226.0,789.1 227.6,789.3 229.2,789.7 230.8,789.9 232.4,789.9 234.0,790.3 235.6,791.1 237.2,790.6 238.8,790.9 240.4,791.6 242.0,791.5 243.6,791.9 245.2,792.1 246.8,792.2 248.4,793.0 250.0,792.4 251.6,792.8 253.2,792.9 254.8,793.5 256.4,793.3 258.0,793.4 259.6,793.2 261.2,792.2 262.8,791.8 264.4,791.4 266.0,790.1 267.6,789.5 269.2,789.5 270.8,790.1 272.4,790.1 274.0,789.8 275.6,790.0 277.2,790.0 278.8,790.3 280.4,790.1 282.0,790.8 283.6,791.0 285.2,791.2 286.8,790.9 288.4,790.9 290.0,789.9 291.6,790.0 293.2,790.5 294.8,790.1 296.4,789.7 298.0,790.0 299.6,789.5 301.2,789.7 302.8,789.3 304.4,789.3 306.0,789.5 307.6,789.3 309.2,789.6 310.8,790.2 312.4,789.6 314.0,789.4 315.6,789.5 317.2,789.6 318.8,790.3 320.4,789.9 322.0,789.9 323.6,789.8 325.2,790.6 326.8,790.5 328.4,790.6 330.0,787.3 331.6,782.5 333.2,777.9 334.8,773.5 336.4,768.5 338.0,767.6 339.6,767.2 341.2,767.5 342.8,769.1 344.4,769.3 346.0,770.6 347.6,771.7 349.2,772.4 350.8,773.8 352.4,772.9 354.0,772.0 355.6,771.5 357.2,770.5 358.8,770.2 360.4,769.4 362.0,769.3 363.6,766.5 365.2,763.1 366.8,758.9 368.4,754.8 370.0,750.5 371.6,746.0 373.2,739.7 374.8,733.8 376.4,729.1 378.0,725.8 379.6,723.3 381.2,719.0 382.8,713.8 384.4,707.7 386.0,707.0 387.6,705.5 389.2,704.5 390.8,703.2 392.4,702.4 394.0,702.9 395.6,703.8 397.2,705.2 398.8,704.3 400.4,703.1 402.0,701.4 403.6,700.5 405.2,699.4 406.8,698.1 408.4,697.1 410.0,696.9 411.6,697.1 413.2,697.3 414.8,697.1 416.4,697.8 418.0,697.9 419.6,696.1 421.2,695.9 422.8,694.9 424.4,693.6 426.0,693.4 427.6,695.8 429.2,696.7 430.8,699.0 432.4,700.4 434.0,700.5 435.6,701.1 437.2,702.1 438.8,701.4 440.4,699.7 442.0,698.1 443.6,695.7 445.2,693.7 446.8,693.7 448.4,692.3 450.0,692.6 451.6,691.9 453.2,693.5 454.8,694.4 456.4,695.4 458.0,696.0 459.6,697.3 461.2,696.5 462.8,695.8 464.4,694.3 466.0,693.6 467.6,692.3 469.2,689.0 470.8,685.9 472.4,682.2 474.0,682.1 475.6,682.6 477.2,682.4 478.8,682.7 480.4,682.4 482.0,681.9 483.6,682.0 485.2,682.3 486.8,682.1 488.4,681.5 490.0,682.2 491.6,682.1 493.2,681.4 494.8,681.8 496.4,681.9 498.0,682.8 499.6,683.0 501.2,683.5 502.8,684.3 504.4,686.5 506.0,687.6 507.6,689.6 509.2,691.2 510.8,691.8 512.4,691.8 514.0,692.0 515.6,692.7 517.2,692.9 518.8,692.9 520.4,694.4 522.0,694.6 523.6,695.5 525.2,696.8 526.8,697.2 528.4,698.4 530.0,698.6 531.6,700.0 533.2,700.0 534.8,700.1 536.4,700.5 538.0,700.5 539.6,700.8 541.2,701.3 542.8,701.3 544.4,700.8 546.0,701.2 547.6,701.5 549.2,701.6 550.8,701.9 552.4,701.8 554.0,701.6 555.6,701.8 557.2,702.5 558.8,702.1 560.4,702.6 562.0,702.9 563.6,702.7 565.2,702.8 566.8,702.8 568.4,702.7 570.0,703.3 571.6,703.2 573.2,703.9 574.8,703.8 576.4,704.6 578.0,704.9 579.6,705.2 581.2,705.4 582.8,705.5 584.4,706.4 586.0,706.4 587.6,707.1 589.2,707.0 590.8,707.3 592.4,706.8 594.0,705.6 595.6,703.2 597.2,702.1 598.8,701.1 600.4,700.7 602.0,700.0 603.6,699.7 605.2,698.7 606.8,698.9 608.4,699.4 610.0,698.8 611.6,699.3 613.2,699.1 614.8,699.2 616.4,699.0 618.0,699.1 619.6,700.0 621.2,700.0 622.8,700.0 624.4,700.1 626.0,700.3 627.6,699.7 629.2,700.2 630.8,700.2 632.4,700.3 634.0,700.2 635.6,699.0 637.2,698.1 638.8,696.3 640.4,695.7 642.0,694.6 643.6,693.3 645.2,691.9 646.8,690.8 648.4,689.0 650.0,688.2 651.6,686.3 653.2,685.0 654.8,683.9 656.4,682.3 658.0,680.5 659.6,679.0 661.2,677.7 662.8,677.1 664.4,676.4 666.0,675.4 667.6,674.0 669.2,672.7 670.8,669.3 672.4,665.0 674.0,662.4 675.6,660.8 677.2,659.7 678.8,659.5 680.4,659.3 682.0,658.8 683.6,658.2 685.2,658.3 686.8,657.6 688.4,656.8 690.0,656.3 691.6,656.0 693.2,654.9 694.8,653.7 696.4,652.3 698.0,650.9 699.6,649.6 701.2,648.8 702.8,647.9 704.4,647.8 706.0,646.9 707.6,646.0 709.2,644.6 710.8,643.9 712.4,643.1 714.0,642.9 715.6,639.2 717.2,633.1 718.8,626.4 720.4,622.1 722.0,618.6 723.6,614.2 725.2,611.3 726.8,607.8 728.4,595.6 730.0,577.8 731.6,564.1 733.2,553.2 734.8,549.7 736.4,547.1 738.0,538.1 739.6,527.3 741.2,516.2 742.8,505.5 744.4,499.5 746.0,498.6 747.6,497.3 749.2,496.0 750.8,492.6 752.4,491.6 754.0,496.0 755.6,500.3 757.2,504.8 758.8,508.9 760.4,509.2 762.0,506.5 763.6,503.7 765.2,493.6 766.0,485.8" fill="none" stroke="#22e822" stroke-width="3.8" stroke-linejoin="round" stroke-linecap="square"/>
</svg>
<div class="ctitle">Ethereum Spot ETF Cumulative Flow (US$m)</div>
<div class="yl" style="top:91px">15,000</div>
<div class="yl" style="top:238px">10,000</div>
<div class="yl" style="top:385px">5,000</div>
<div class="yl" style="top:531px">0</div>
<div class="yl" style="top:678px">(5,000)</div>
<div class="xl" style="left:216.5px">01 Oct 2024</div>
<div class="xl" style="left:363px">01 Jan 2025</div>
<div class="xl" style="left:507px">01 Apr 2025</div>
<div class="xl" style="left:650.5px">01 Jul 2025</div>
<span class="sw" style="left:51px;top:775px;background:#000"></span><span class="lg" style="left:87.9px;top:773.4px">ETHA</span>
<span class="sw" style="left:172px;top:775px;background:#34a853"></span><span class="lg" style="left:209px;top:773.4px">FETH</span>
<span class="sw" style="left:293px;top:775px;background:#4285f4"></span><span class="lg" style="left:329.6px;top:773.4px">ETHW</span>
<span class="sw" style="left:425px;top:775px;background:#1c4587"></span><span class="lg" style="left:461px;top:773.4px">CETH</span>
<span class="sw" style="left:546px;top:775px;background:#bf9000"></span><span class="lg" style="left:583px;top:773.4px">ETHV</span>
<span class="sw" style="left:59px;top:805px;background:#8e7cc3"></span><span class="lg" style="left:96.2px;top:803.4px">QETH</span>
<span class="sw" style="left:182px;top:805px;background:#cc0000"></span><span class="lg" style="left:218.5px;top:803.4px">EZET</span>
<span class="sw" style="left:301.5px;top:805px;background:#c9daf8"></span><span class="lg" style="left:337.6px;top:803.4px">ETH</span>
<span class="sw" style="left:409px;top:805px;background:#999999"></span><span class="lg" style="left:445.3px;top:803.4px">ETHE</span>
<span class="sw" style="left:530px;top:805px;background:#00ff00"></span><span class="lg" style="left:567.4px;top:803.4px">TOTAL</span>
</div>
<div class="src">Source: Farside Investors</div>
<svg class="logo" width="864" height="1328" viewBox="0 0 864 1328">
<defs><linearGradient id="lgd" x1="291" y1="1250" x2="365" y2="1205" gradientUnits="userSpaceOnUse"><stop offset="0" stop-color="#239df9"/><stop offset="0.5" stop-color="#22c4ee"/><stop offset="1" stop-color="#1de6d4"/></linearGradient></defs>
<path d="M291,1221 L312,1221 C322,1221 328,1200 347,1200 C356,1200 362,1204 365,1208 L365,1234 L345,1234 C334,1234 328,1256 310,1256 C300,1256 294,1252 291,1248 Z" fill="url(#lgd)"/>
</svg>
<div class="brand">SignalPlus</div>
</body>
</html>
